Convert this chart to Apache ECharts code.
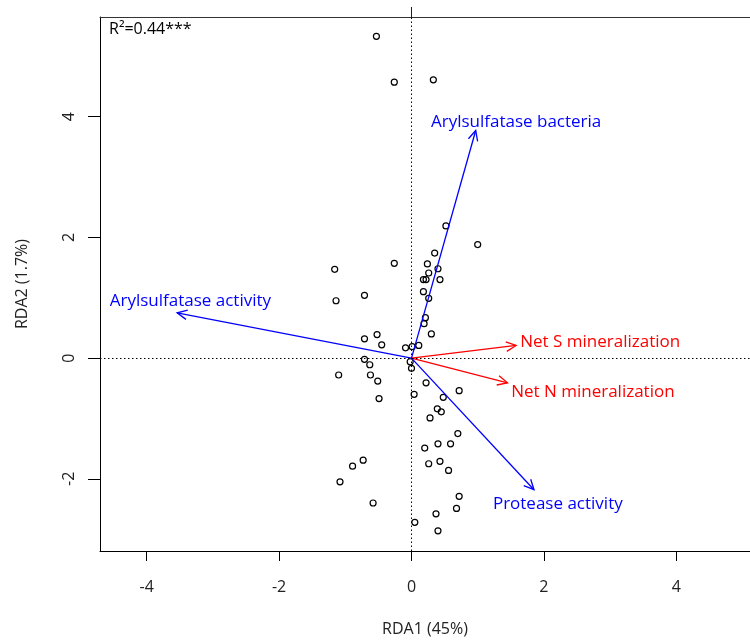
<!DOCTYPE html>
<html>
<head>
<meta charset="utf-8">
<script src="https://cdn.jsdelivr.net/npm/echarts@6/dist/echarts.min.js"></script>
<style>
html,body{margin:0;padding:0;background:#fff;}
#chart{width:750px;height:640px;}
</style>
</head>
<body>
<div id="chart"></div>
<script>
// Site scores (RDA1, RDA2)
const siteX = [-0.53,-0.26,0.33,0.52,1.00,-1.16,-0.26,0.35,0.24,0.40,0.26,0.18,0.22,0.43,-1.14,-0.71,0.18,0.26,0.21,0.19,0.30,-0.71,-0.52,-0.45,-0.09,0.01,0.11,-0.71,-0.63,-1.10,-0.62,-0.51,-0.49,-0.02,0.00,0.22,0.72,0.04,0.48,0.39,0.45,0.28,0.70,0.20,0.40,0.59,0.26,0.43,0.56,-0.73,-0.89,-1.08,-0.58,0.72,0.68,0.37,0.05,0.40];
const siteY = [5.33,4.57,4.61,2.19,1.88,1.47,1.57,1.74,1.56,1.48,1.41,1.30,1.30,1.30,0.95,1.04,1.10,0.99,0.67,0.57,0.40,0.32,0.39,0.22,0.17,0.19,0.21,-0.02,-0.11,-0.28,-0.28,-0.38,-0.67,-0.06,-0.17,-0.41,-0.54,-0.60,-0.65,-0.84,-0.89,-0.99,-1.25,-1.49,-1.42,-1.42,-1.75,-1.71,-1.86,-1.69,-1.79,-2.05,-2.40,-2.29,-2.49,-2.58,-2.72,-2.86];

// Arrows (explanatory / response variables)
const arrowNames = ["Arylsulfatase bacteria","Arylsulfatase activity","Net S mineralization","Net N mineralization","Protease activity"];
const arrowX = [0.97,-3.54,1.58,1.45,1.85];
const arrowY = [3.77,0.75,0.21,-0.41,-2.18];
const arrowColors = ["#0000FF","#0000FF","#FF0000","#FF0000","#0000FF"];
const labelX = [1.58,-3.34,2.85,2.74,2.21];
const labelY = [3.91,0.95,0.27,-0.56,-2.42];

const xTicks = [-4,-2,0,2,4];
const yTicks = [-2,0,2,4];
const xTitle = "RDA1 (45%)";
const yTitle = "RDA2 (1.7%)";
const r2Text = "R²=0.44***";

const FONT = "'Open Sans'";

const chart = echarts.init(document.getElementById('chart'), null, {renderer:'canvas'});

const sites = siteX.map((x,i)=>[x, siteY[i]]);
const arrows = arrowX.map((x,i)=>[x, arrowY[i], labelX[i], labelY[i], i]);

function renderArrow(params, api){
  const i = api.value(4);
  const o = api.coord([0,0]);
  const t = api.coord([api.value(0), api.value(1)]);
  const l = api.coord([api.value(2), api.value(3)]);
  const col = arrowColors[i];
  const ang = Math.atan2(t[1]-o[1], t[0]-o[0]);
  const hl = 11, ha = Math.PI/7;
  const p1 = [t[0]-hl*Math.cos(ang-ha), t[1]-hl*Math.sin(ang-ha)];
  const p2 = [t[0]-hl*Math.cos(ang+ha), t[1]-hl*Math.sin(ang+ha)];
  return {
    type:'group',
    children:[
      {type:'line', shape:{x1:o[0],y1:o[1],x2:t[0],y2:t[1]}, style:{stroke:col,lineWidth:1.3}},
      {type:'polyline', shape:{points:[p1,t,p2]}, style:{stroke:col,lineWidth:1.3,fill:null}},
      {type:'text', x:l[0], y:l[1], style:{text:arrowNames[i], fill:col, font:'17px '+FONT, align:'center', verticalAlign:'middle'}}
    ]
  };
}

const option = {
  animation:false,
  backgroundColor:'#fff',
  grid:{left:100, right:0, top:17, bottom:89, containLabel:false, outerBoundsMode:'none'},
  xAxis:[{
    type:'value', min:-4.705, max:5.113, position:'bottom',
    axisLine:{show:true, onZero:false, lineStyle:{color:'#000', width:1}},
    axisTick:{show:true, length:10, customValues:xTicks, lineStyle:{color:'#000'}},
    axisLabel:{show:true, customValues:xTicks, fontSize:16, color:'#222', fontFamily:'Open Sans', margin:28},
    splitLine:{show:false},
    name:xTitle, nameLocation:'middle', nameGap:70,
    nameTextStyle:{fontSize:16, color:'#222', fontFamily:'Open Sans'}
  },{
    type:'value', min:-4.705, max:5.113, position:'top',
    axisLine:{show:true, onZero:false, lineStyle:{color:'#333', width:1}},
    axisTick:{show:true, length:10, customValues:[0], lineStyle:{color:'#0000FF'}},
    axisLabel:{show:false},
    splitLine:{show:false}
  }],
  yAxis:{
    type:'value', min:-3.195, max:5.65,
    axisLine:{show:true, onZero:false, lineStyle:{color:'#000', width:1}},
    axisTick:{show:true, length:12, customValues:yTicks, lineStyle:{color:'#000'}},
    axisLabel:{show:true, customValues:yTicks, rotate:90, fontSize:16, color:'#222', fontFamily:'Open Sans', margin:23},
    splitLine:{show:false},
    name:yTitle, nameLocation:'middle', nameGap:70, nameRotate:90,
    nameTextStyle:{fontSize:16, color:'#222', fontFamily:'Open Sans'}
  },
  graphic:[{
    type:'text', left:109, top:21,
    style:{text:r2Text, fill:'#000', font:'16px '+FONT}
  }],
  series:[{
    type:'scatter',
    data:sites,
    symbol:'circle', symbolSize:6,
    itemStyle:{color:'rgba(0,0,0,0)', borderColor:'#000', borderWidth:1.2, opacity:1},
    markLine:{
      silent:true, symbol:['none','none'],
      label:{show:false},
      lineStyle:{color:'#000', type:[1.5,2.5], width:1},
      data:[{xAxis:0},{yAxis:0}],
      animation:false
    },
    z:3
  },{
    type:'custom',
    renderItem:renderArrow,
    data:arrows,
    z:4
  }]
};
chart.setOption(option);
</script>
</body>
</html>
